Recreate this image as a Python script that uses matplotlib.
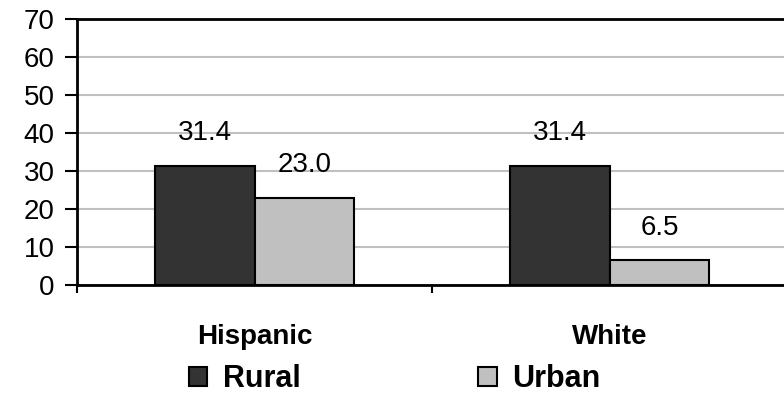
import matplotlib
matplotlib.use("Agg")
import matplotlib.pyplot as plt
from matplotlib.patches import Patch
import numpy as np

plt.rcParams['font.family'] = ['Liberation Sans', 'DejaVu Sans']

# rural / urban rates by group
groups = ['Hispanic', 'White']
rural = [31.4, 31.4]
urban = [23.0, 6.5]
yticks = [0, 10, 20, 30, 40, 50, 60, 70]

rural_color = '#333333'
urban_color = '#c0c0c0'

fig = plt.figure(figsize=(7.84, 3.95), dpi=100)
ax = fig.add_axes([0.0982, 0.2785, 0.906, 0.6735])

x = np.arange(len(groups))
w = 0.28
b1 = ax.bar(x - w/2, rural, w, color=rural_color, edgecolor='black', linewidth=1.5, zorder=3)
b2 = ax.bar(x + w/2, urban, w, color=urban_color, edgecolor='black', linewidth=1.5, zorder=3)

for bars, vals in ((b1, rural), (b2, urban)):
    for r, v in zip(bars, vals):
        ax.text(r.get_x() + r.get_width()/2, v + 5.2, '%.1f' % v,
                ha='center', va='bottom', fontsize=20)

ax.set_xlim(-0.5, 1.5)
ax.set_ylim(0, 70)
ax.set_yticks(yticks)
ax.tick_params(axis='y', labelsize=20, length=9, width=1.5, direction='out', pad=7)
ax.yaxis.grid(True, color='#c0c0c0', linewidth=1.5, zorder=0)

# category labels sit between boundary ticks
ax.set_xticks(x)
ax.set_xticklabels(groups, fontsize=20, fontweight='bold')
ax.tick_params(axis='x', which='major', length=0, pad=28)
ax.set_xticks([-0.5, 0.5, 1.5], minor=True)
ax.tick_params(axis='x', which='minor', length=6, width=1.5, direction='out')

ax.spines['right'].set_visible(False)
for s in ('left', 'bottom', 'top'):
    ax.spines[s].set_linewidth(2)

handles = [Patch(facecolor=rural_color, edgecolor='black', linewidth=1.5),
           Patch(facecolor=urban_color, edgecolor='black', linewidth=1.5)]
fig.legend(handles, ['Rural', 'Urban'], loc='center', bbox_to_anchor=(0.503, 0.04),
           ncol=2, frameon=False, prop={'size': 22, 'weight': 'bold'},
           handlelength=0.62, handleheight=0.62, handletextpad=0.5, columnspacing=5.8)

fig.savefig('out.png', dpi=100)
